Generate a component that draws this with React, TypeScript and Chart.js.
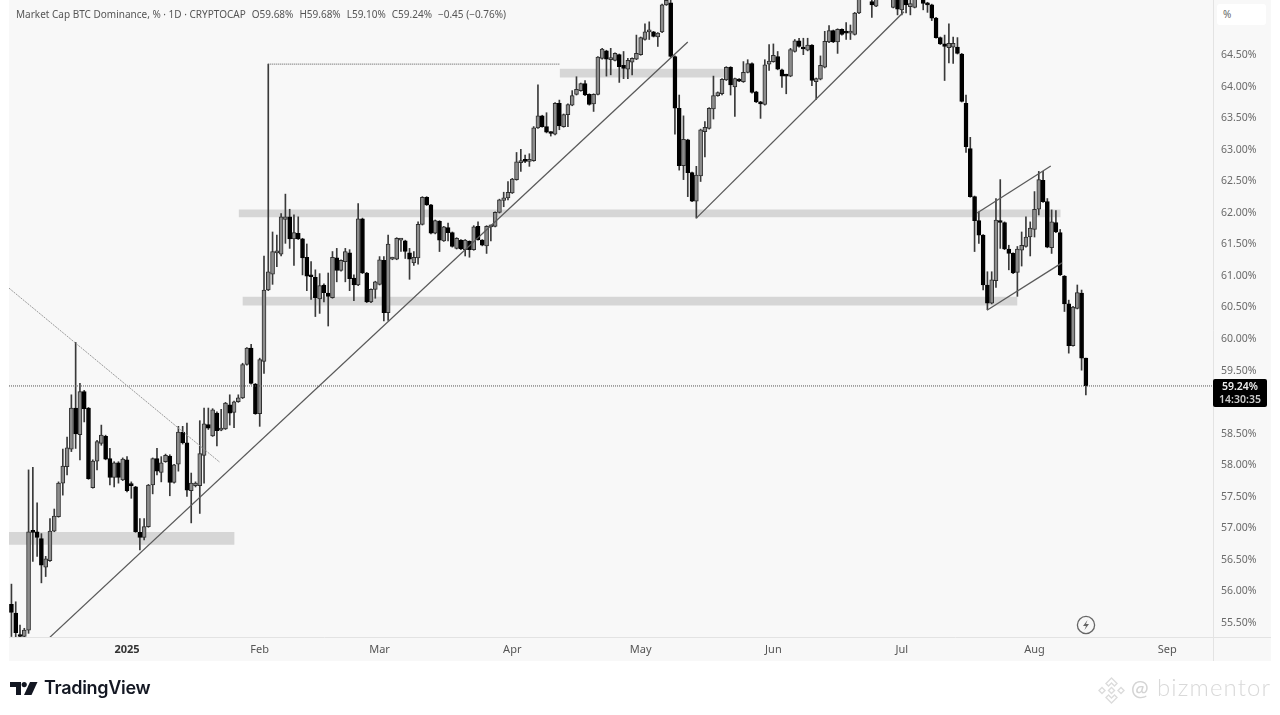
import React, { useEffect, useRef } from "react";
import { Chart, registerables } from "chart.js";

Chart.register(...registerables);

// Trading days counted from 1 Jan 2025; the first candle is 27 days earlier.
const firstDay = -27;

const opens = [
  55.78,55.64,55.29,55.27,55.37,56.93,56.93,56.82,56.37,56.47,
  56.94,57.17,57.70,57.96,58.24,58.89,58.47,59.15,58.89,57.63,
  58.05,58.33,58.44,58.09,57.79,58.02,57.75,58.07,57.67,57.64,
  56.92,56.84,57.01,57.67,58.09,57.87,58.04,58.13,57.71,58.00,
  58.51,58.34,57.58,57.66,57.66,58.14,58.63,58.45,58.81,58.54,
  58.56,58.94,58.82,58.99,59.05,59.58,59.84,59.27,58.80,59.63,
  60.76,61.01,61.35,61.33,61.88,61.92,61.57,61.66,61.57,61.28,
  60.99,60.96,60.62,60.84,60.71,60.64,61.27,61.07,61.21,61.35,
  60.95,60.84,61.89,61.03,60.57,60.77,60.85,61.23,60.40,61.25,
  61.25,61.55,61.54,61.35,61.19,61.27,61.80,62.23,62.11,61.66,
  61.85,61.54,61.75,61.67,61.42,61.55,61.40,61.53,61.40,61.77,
  61.55,61.46,61.76,61.77,61.99,62.18,62.22,62.30,62.51,62.78,
  62.81,62.80,62.81,63.33,63.52,63.35,63.25,63.23,63.72,63.35,
  63.54,63.69,63.86,63.92,64.03,63.86,63.71,63.86,64.43,64.55,
  64.41,64.40,64.49,64.32,64.26,64.37,64.42,64.49,64.73,64.85,
  64.85,64.77,64.85,65.28,65.31,64.46,63.64,62.73,63.14,62.62,
  62.17,62.57,63.27,63.32,63.63,63.84,63.87,64.09,64.29,63.98,
  64.10,64.06,64.21,64.35,63.90,63.74,63.70,64.34,64.38,64.46,
  64.25,64.17,64.15,64.54,64.71,64.59,64.56,64.64,64.06,64.10,
  64.29,64.69,64.87,64.69,64.89,64.84,64.83,64.81,65.15,65.42,
  65.50,65.33,65.26,65.42,65.60,65.45,65.24,65.42,65.20,65.35,
  65.25,65.24,65.42,65.40,65.30,65.28,65.07,64.76,64.66,64.60,
  64.61,64.61,64.50,63.72,63.00,62.24,61.86,61.63,60.84,60.55,
  60.91,61.84,61.83,61.41,61.34,61.04,61.39,61.45,61.60,61.72,
  62.04,62.50,62.16,61.43,61.83,61.67,60.98,60.54,59.88,60.47,
  60.71,59.68,
];
const closes = [
  55.65,55.33,55.27,55.37,56.93,56.92,56.84,56.40,56.50,56.94,
  57.18,57.70,57.97,58.26,58.89,58.48,59.15,58.88,57.77,58.05,
  58.36,58.46,58.08,57.79,58.02,57.79,58.08,57.58,57.66,56.93,
  56.84,57.01,57.67,58.09,57.89,58.02,58.14,57.71,57.99,58.51,
  58.34,57.59,57.70,57.70,58.17,58.64,58.57,58.86,58.53,58.57,
  58.97,58.81,58.99,59.05,59.58,59.84,59.28,58.80,59.66,60.76,
  61.05,61.37,61.37,61.92,61.92,61.57,61.67,61.57,61.27,60.98,
  60.97,60.64,60.83,60.72,60.66,61.28,61.07,61.23,61.37,60.94,
  60.84,61.89,61.03,60.57,60.77,60.89,61.24,60.40,61.49,61.26,
  61.58,61.56,61.37,61.25,61.28,61.80,62.23,62.11,61.66,61.86,
  61.55,61.76,61.67,61.45,61.58,61.41,61.55,61.40,61.76,61.56,
  61.47,61.77,61.77,61.99,62.19,62.22,62.31,62.52,62.79,62.81,
  62.80,62.81,63.33,63.52,63.35,63.26,63.24,63.72,63.36,63.54,
  63.70,63.84,63.94,64.03,63.85,63.70,63.86,64.45,64.58,64.42,
  64.43,64.51,64.30,64.27,64.40,64.43,64.51,64.76,64.85,64.86,
  64.78,64.83,65.28,65.35,64.46,63.64,62.73,63.15,62.62,62.17,
  62.58,63.30,63.34,63.64,63.84,63.89,64.10,64.29,64.01,64.11,
  64.07,64.21,64.35,63.89,63.74,63.71,64.33,64.39,64.48,64.26,
  64.15,64.15,64.57,64.71,64.62,64.58,64.64,64.08,64.11,64.32,
  64.70,64.87,64.69,64.89,64.81,64.83,64.84,65.15,65.42,65.55,
  65.42,65.28,65.40,65.60,65.48,65.62,65.42,65.21,65.42,65.28,
  65.30,65.42,65.55,65.30,65.28,65.07,64.76,64.66,64.62,64.67,
  64.67,64.51,63.75,63.03,62.24,61.86,61.63,60.84,60.55,60.92,
  61.87,61.83,61.41,61.34,61.03,61.41,61.47,61.60,61.74,62.04,
  62.51,62.16,61.44,61.84,61.68,61.00,60.54,59.88,60.49,60.72,
  59.68,59.24,
];
const highs = [
  56.10,55.82,55.45,55.40,57.91,57.95,57.39,56.90,56.54,57.14,
  57.29,57.72,58.24,58.43,59.10,59.93,59.28,59.17,58.90,58.07,
  58.38,58.62,58.46,58.25,58.04,58.04,58.10,58.12,57.72,57.65,
  57.14,57.14,57.68,58.10,58.25,58.12,58.16,58.15,58.00,58.60,
  58.60,58.65,57.86,57.72,58.69,58.89,58.89,58.88,58.83,58.87,
  58.98,59.10,59.00,59.10,59.60,59.85,59.90,59.28,59.68,61.30,
  64.34,61.68,61.63,61.97,62.28,62.04,61.95,61.92,61.58,61.49,
  61.21,61.08,61.02,60.86,61.03,61.37,61.42,61.24,61.42,61.40,
  61.00,62.13,61.90,61.04,60.78,60.90,61.29,61.29,61.63,61.28,
  61.59,61.58,61.55,61.42,61.37,61.84,62.24,62.24,62.12,61.87,
  61.86,61.77,61.82,61.68,61.59,61.56,61.56,61.54,61.78,61.84,
  61.56,61.78,61.79,62.00,62.20,62.31,62.48,62.53,62.94,62.99,
  62.90,62.92,63.35,64.01,63.53,63.57,63.27,63.73,63.77,63.55,
  63.71,63.92,64.14,64.04,64.08,63.87,63.87,64.46,64.59,64.56,
  64.59,64.52,64.50,64.54,64.43,64.44,64.80,64.77,64.98,65.01,
  64.86,64.84,65.29,65.45,65.40,64.47,63.85,63.52,63.15,62.63,
  62.72,63.31,63.43,63.65,64.15,63.90,64.11,64.30,64.30,64.12,
  64.11,64.38,64.41,64.36,63.91,63.75,64.41,64.65,64.66,64.54,
  64.26,64.18,64.59,64.73,64.75,64.75,64.75,64.65,64.12,64.47,
  64.86,64.95,64.88,64.90,64.90,65.00,64.96,65.16,65.45,65.65,
  65.58,65.40,65.48,65.66,65.70,65.70,65.50,65.50,65.50,65.45,
  65.40,65.45,65.60,65.45,65.32,65.29,65.08,64.77,64.80,64.98,
  64.77,64.76,64.51,63.85,63.18,62.25,62.00,61.64,61.05,61.05,
  62.21,62.51,61.84,61.47,61.35,61.45,61.68,61.92,61.84,62.32,
  62.64,62.64,62.21,62.03,62.02,61.72,60.99,60.60,60.50,60.84,
  60.76,59.68,
];
const lows = [
  55.27,55.20,55.20,55.20,55.32,56.46,56.54,56.12,56.22,56.46,
  56.93,57.16,57.51,57.83,58.20,58.25,58.07,58.67,57.76,57.62,
  57.91,58.30,58.07,57.67,57.64,57.70,57.74,57.56,57.46,56.92,
  56.64,56.80,57.00,57.53,57.83,57.72,58.03,57.50,57.70,57.89,
  58.32,57.49,57.07,57.64,57.22,57.70,58.55,58.44,58.29,58.53,
  58.55,58.62,58.58,58.98,59.04,59.57,59.27,58.79,58.60,59.44,
  60.75,60.85,61.13,61.30,61.50,61.42,61.15,61.56,61.00,60.75,
  60.61,60.34,60.39,60.57,60.19,60.63,60.89,61.06,60.89,60.75,
  60.59,60.83,61.02,60.56,60.56,60.63,60.84,60.27,60.28,61.24,
  61.24,61.37,61.26,60.93,61.15,61.17,61.79,62.10,61.65,61.65,
  61.37,61.53,61.54,61.44,61.41,61.40,61.30,61.28,61.39,61.55,
  61.46,61.34,61.54,61.76,61.98,62.08,62.19,62.29,62.50,62.64,
  62.78,62.72,62.80,63.32,63.34,63.25,63.20,63.22,63.30,63.34,
  63.35,63.68,63.85,63.91,63.84,63.69,63.59,63.85,64.42,64.15,
  64.17,64.39,64.05,64.11,64.11,64.17,64.41,64.48,64.72,64.73,
  64.77,64.62,64.84,65.27,64.45,63.23,62.66,62.51,62.24,62.16,
  61.90,62.48,62.87,63.31,63.47,63.83,63.85,64.08,63.85,63.51,
  64.06,64.05,64.20,63.88,63.73,63.48,63.69,64.24,64.37,64.25,
  63.97,63.87,64.14,64.53,64.61,64.49,64.55,64.00,63.78,64.09,
  64.28,64.68,64.68,64.51,64.80,64.73,64.73,64.80,65.14,65.40,
  65.38,65.08,65.25,65.40,65.45,65.42,65.23,65.12,65.12,65.15,
  65.12,65.23,65.40,65.20,65.16,65.03,64.75,64.65,64.08,64.36,
  64.35,64.50,63.74,62.94,62.23,61.37,61.50,60.76,60.45,60.54,
  60.80,61.42,61.40,61.08,61.02,60.66,61.14,61.44,61.30,61.60,
  61.95,62.15,61.43,61.34,61.67,60.99,60.42,59.76,59.87,60.46,
  59.49,59.10,
];

const monthDays = [0, 31, 59, 90, 120, 151, 181, 212, 243];
const monthLabels = ["2025", "Feb", "Mar", "Apr", "May", "Jun", "Jul", "Aug", "Sep"];
const priceTicks = [
  55.5, 56, 56.5, 57, 57.5, 58, 58.5, 59.5, 60, 60.5, 61, 61.5, 62, 62.5, 63, 63.5, 64, 64.5,
];
const lastPrice = 59.24;
const dayMin = -27.57;
const dayMax = 253.7;
const priceMin = 55.262;
const priceMax = 65.356;

// Support / resistance zones: [startDay, endDay, lower, upper]
const zones = [
  [-27.57, 25, 56.73, 56.92],
  [27.1, 207.9, 60.52, 60.65],
  [26.2, 218, 61.92, 62.03],
  [101.2, 139.7, 64.135, 64.26],
];
// Drawn lines: [startDay, startPrice, endDay, endPrice]
const trendLines = [
  [-18, 55.26, 131, 64.69],
  [133, 61.9, 181.5, 65.17],
  [198.6, 61.98, 215.8, 62.725],
  [200.9, 60.44, 218.4, 61.19],
];
const fallingLine = [-27.57, 60.79, 21.7, 58.03];
const dottedLine = [33, 64.34, 101.2, 64.34];

const titleMain = "Market Cap BTC Dominance, % · 1D · CRYPTOCAP";
const titleValues = ["O59.68%", "H59.68%", "L59.10%", "C59.24%", "−0.45 (−0.76%)"];

const BG = "#f8f8f8";
const AXIS_LINE = "#e3e3e3";
const TICK = "#6a6a6a";

const pagePaint = {
  id: "pagePaint",
  beforeDraw(chart: any) {
    const { ctx, chartArea } = chart;
    ctx.save();
    ctx.fillStyle = "#ffffff";
    ctx.fillRect(0, 0, chart.width, chart.height);
    ctx.fillStyle = BG;
    ctx.fillRect(chartArea.left, 0, 1262, 661);
    ctx.strokeStyle = AXIS_LINE;
    ctx.lineWidth = 1;
    ctx.beginPath();
    ctx.moveTo(chartArea.right + 0.5, 0);
    ctx.lineTo(chartArea.right + 0.5, 661);
    ctx.moveTo(chartArea.left, chartArea.bottom + 0.5);
    ctx.lineTo(1271, chartArea.bottom + 0.5);
    ctx.stroke();
    ctx.restore();
  },
};

function seg(s: number[]) {
  return [
    { x: s[0], y: s[1] },
    { x: s[2], y: s[3] },
  ];
}

function noScalePadding(axis: any) {
  axis.paddingTop = 0;
  axis.paddingBottom = 0;
  axis.paddingLeft = 0;
  axis.paddingRight = 0;
}

const abs = (left: number, top: number): React.CSSProperties => ({
  position: "absolute",
  left,
  top,
  whiteSpace: "pre",
});

export default function App() {
  const ref = useRef<HTMLCanvasElement>(null);

  useEffect(() => {
    document.body.style.margin = "0";
    const days = opens.map((_, i) => firstDay + i);
    const fills = opens.map((o, i) => (closes[i] < o ? "#000000" : "#8c8c8c"));
    const edges = opens.map((o, i) => (closes[i] < o ? "#000000" : "#2e2e2e"));
    const lineBase = { type: "line", pointRadius: 0, fill: false, tension: 0 };

    const chart = new Chart(ref.current as HTMLCanvasElement, {
      type: "bar",
      data: {
        datasets: [
          ...zones.map((z) => ({
            type: "bar",
            data: [{ x: (z[0] + z[1]) / 2, y: [z[2], z[3]] }],
            backgroundColor: "#d6d6d6",
            barThickness: (z[1] - z[0]) * 4.2806,
            grouped: false,
            order: 6,
          })),
          {
            type: "bar",
            label: "Wicks",
            data: days.map((x, i) => ({ x, y: [lows[i], highs[i]] })),
            backgroundColor: "#3a3a3a",
            barThickness: 1,
            grouped: false,
            order: 5,
          },
          {
            type: "bar",
            label: "Bodies",
            data: days.map((x, i) => ({ x, y: [opens[i], closes[i]] })),
            backgroundColor: fills,
            borderColor: edges,
            borderWidth: 1,
            borderSkipped: false,
            barThickness: 4,
            minBarLength: 2,
            grouped: false,
            order: 4,
          },
          {
            ...lineBase,
            label: "Last price",
            data: [
              { x: dayMin, y: lastPrice },
              { x: dayMax, y: lastPrice },
            ],
            borderColor: "#555555",
            borderWidth: 1,
            borderDash: [1, 1],
            order: 3,
          },
          {
            ...lineBase,
            label: "Falling line",
            data: seg(fallingLine),
            borderColor: "#9a9a9a",
            borderWidth: 1,
            borderDash: [2, 1],
            order: 2,
          },
          {
            ...lineBase,
            label: "Dotted level",
            data: seg(dottedLine),
            borderColor: "#555555",
            borderWidth: 1,
            borderDash: [1, 1],
            order: 2,
          },
          ...trendLines.map((t) => ({
            ...lineBase,
            data: seg(t),
            borderColor: "#5a5a5a",
            borderWidth: 1.3,
            order: 1,
          })),
        ] as any,
      },
      options: {
        responsive: false,
        animation: false,
        events: [],
        layout: { padding: { left: 9, right: 9, top: 0, bottom: 54 } },
        plugins: { legend: { display: false }, tooltip: { enabled: false }, title: { display: false } },
        scales: {
          x: {
            type: "linear",
            offset: false,
            min: dayMin,
            max: dayMax,
            grid: { display: false, drawTicks: false, offset: false },
            border: { display: false },
            afterBuildTicks(axis: any) {
              axis.ticks = monthDays.map((value) => ({ value }));
            },
            afterFit(axis: any) {
              axis.height = 24;
              noScalePadding(axis);
            },
            ticks: {
              autoSkip: false,
              maxRotation: 0,
              padding: 6,
              color: (c: any) => (c.tick && c.tick.value === 0 ? "#333333" : "#555555"),
              font: (c: any) => ({
                family: "'Noto Sans', sans-serif",
                size: 11,
                weight: c.tick && c.tick.value === 0 ? "bold" : "normal",
              }),
              callback: (value: any) => monthLabels[monthDays.indexOf(value)] ?? "",
            },
          },
          y: {
            type: "linear",
            position: "right",
            min: priceMin,
            max: priceMax,
            grid: { display: false, drawTicks: false },
            border: { display: false },
            afterBuildTicks(axis: any) {
              axis.ticks = priceTicks.map((value) => ({ value }));
            },
            afterFit(axis: any) {
              axis.width = 58;
              noScalePadding(axis);
            },
            ticks: {
              autoSkip: false,
              padding: 8,
              labelOffset: 1,
              color: TICK,
              font: { family: "'Noto Sans', sans-serif", size: 10.5 },
              callback: (value: any) => Number(value).toFixed(2) + "%",
            },
          },
        },
      } as any,
      plugins: [pagePaint],
    } as any);
    return () => chart.destroy();
  }, []);

  return (
    <div style={{ position: "relative", width: 1280, height: 715, overflow: "hidden" }}>
      <canvas ref={ref} width={1280} height={715} style={{ position: "absolute", left: 0, top: 0, display: "block" }} />

      <div
        style={{
          ...abs(16, 6),
          font: "10px/16px 'Noto Sans', sans-serif",
          color: "#555",
        }}
      >
        {titleMain}
        {titleValues.map((t) => (
          <span key={t} style={{ marginLeft: 6 }}>
            {t}
          </span>
        ))}
      </div>

      <div style={{ ...abs(1217, 4), width: 49, height: 21, background: "#fff", borderRadius: 3 }} />
      <div style={{ ...abs(1223, 7), font: "10px/14px 'Noto Sans', sans-serif", color: "#666" }}>%</div>

      <div
        style={{
          ...abs(1213, 379),
          width: 54,
          height: 28,
          background: "#000",
          borderRadius: 2,
          color: "#eee",
          font: "600 10.5px/13px 'Noto Sans', sans-serif",
          textAlign: "center",
          paddingTop: 1,
          boxSizing: "border-box",
        }}
      >
        {"59.24%"}
        <br />
        <span style={{ color: "#ccc" }}>{"14:30:35"}</span>
      </div>

      <svg style={{ position: "absolute", left: 1076, top: 615 }} width={20} height={20} viewBox="0 0 20 20">
        <circle cx={10} cy={10} r={8.6} fill="none" stroke="#666" strokeWidth={1.3} />
        <path d="M11.5 5 L7 11 H10 L8.5 15 L13 9 H10 Z" fill="#666" />
      </svg>

      <svg style={{ position: "absolute", left: 10, top: 682 }} width={28} height={14} viewBox="0 0 28 14">
        <path d="M0 0H11V13H6V5H0Z" fill="#131722" />
        <circle cx={14.2} cy={2.6} r={2.6} fill="#131722" />
        <path d="M20 0H27.5L21.5 13H14Z" fill="#131722" />
      </svg>
      <div style={{ ...abs(44, 677), font: "600 18px/22px Inter, sans-serif", color: "#131722", letterSpacing: -0.3 }}>
        TradingView
      </div>

      <svg style={{ position: "absolute", left: 1097, top: 676 }} width={29} height={29} viewBox="0 0 29 29" fill="none" stroke="#dcdcdc" strokeWidth={1.4}>
        <path d="M14.5 2 L20 7.5 L17.5 10 L14.5 7 L11.5 10 L9 7.5 Z" />
        <path d="M5 11.5 L8 14.5 L5 17.5 L2 14.5 Z" />
        <path d="M24 11.5 L27 14.5 L24 17.5 L21 14.5 Z" />
        <path d="M14.5 11.5 L17.5 14.5 L14.5 17.5 L11.5 14.5 Z" />
        <path d="M14.5 27 L20 21.5 L17.5 19 L14.5 22 L11.5 19 L9 21.5 Z" />
      </svg>
      <div style={{ ...abs(1131, 675), font: "500 21px/26px Lato, sans-serif", color: "#d4d4d4" }}>@</div>
      <div style={{ ...abs(1157, 673), font: "300 24px/28px Lato, sans-serif", color: "#d9d9d9", letterSpacing: 1.1 }}>
        bizmentor
      </div>
    </div>
  );
}
